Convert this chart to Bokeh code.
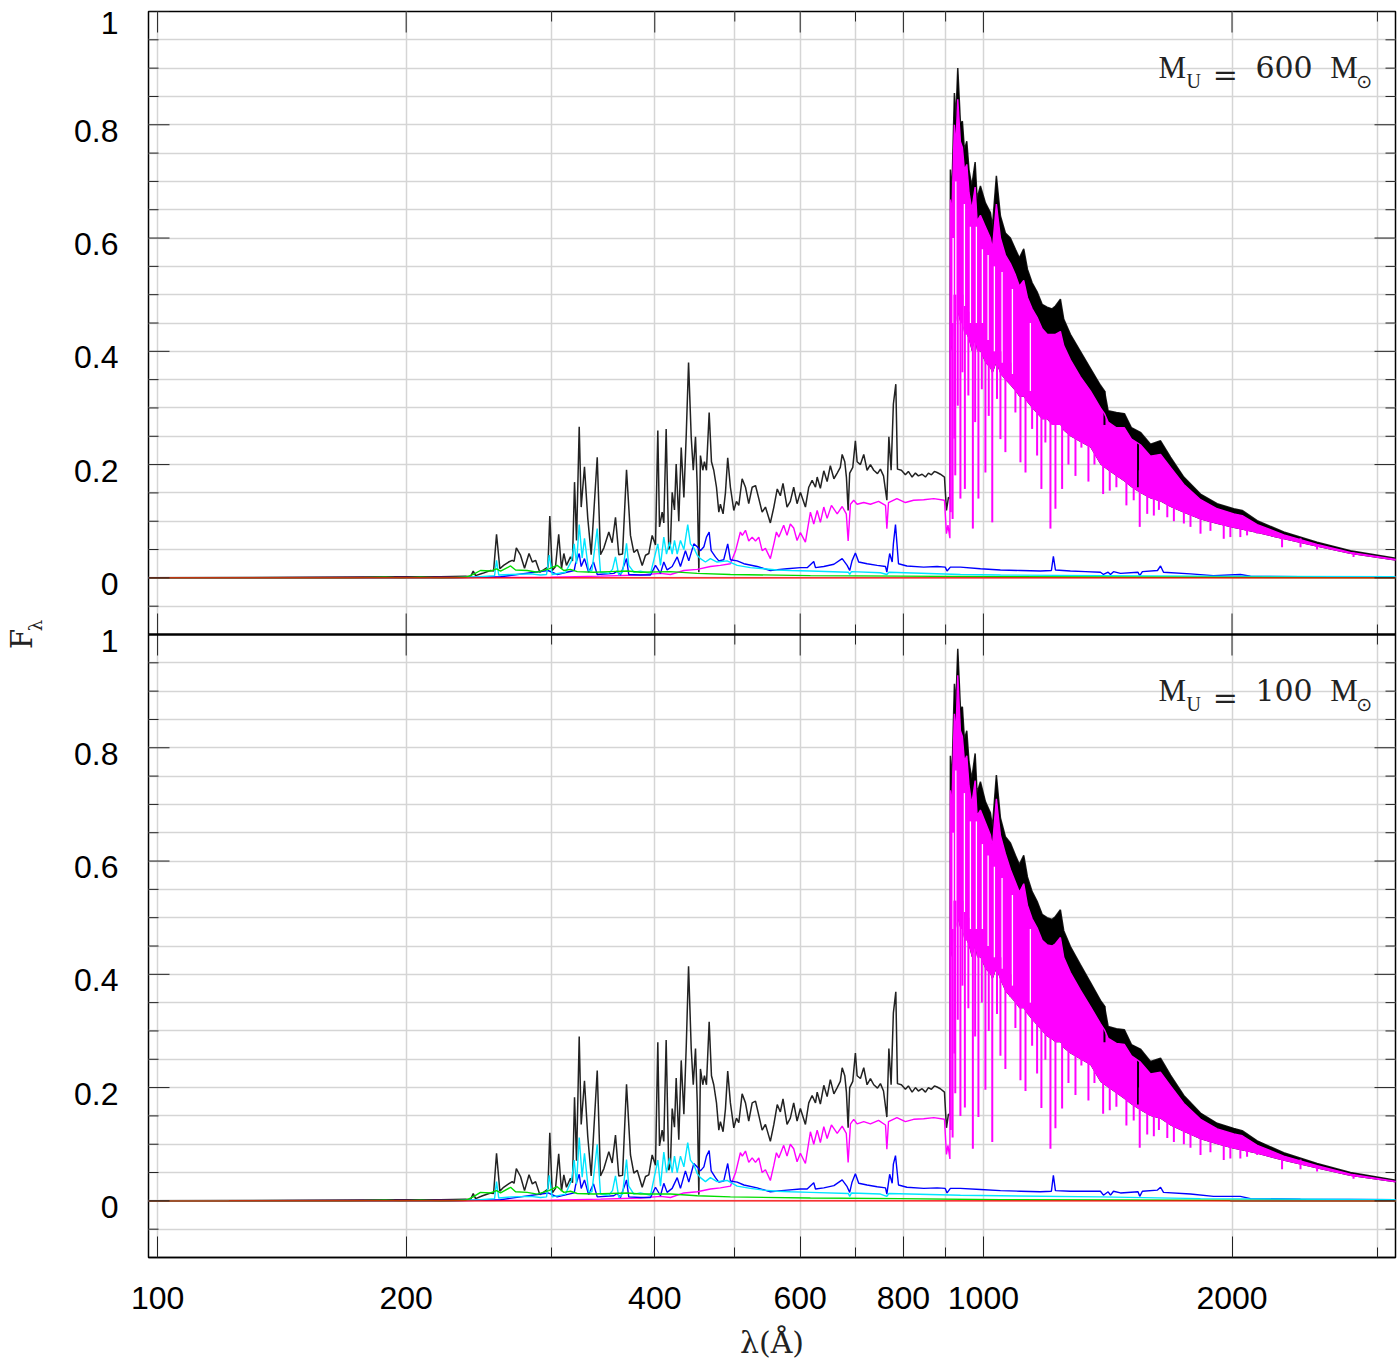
from math import pi
from bokeh.plotting import figure
from bokeh.layouts import row
from bokeh.models import Range1d, LinearAxis, FixedTicker, Span, Label, Grid, BasicTickFormatter
from bokeh.embed import file_html
from bokeh.resources import INLINE

# ---------------- data (wavelength in Angstrom, flux F_lambda) ----------------
# shortward of the Lyman edge: total (black) spectrum
lam_uv = [97.5, 149, 197, 220, 236, 239.3, 241.1, 242.7, 247.5, 253.0,
          255.2, 257.3, 259.7, 262.4, 266.1, 268.8, 270.2, 271.9, 275.1, 278.2,
          281.7, 284.3, 286.9, 290.3, 293.3, 296.9, 298.5, 300.5, 303.3, 306.0,
          308.4, 310.4, 312.7, 316.2, 318.0, 319.8, 321.6, 324.0, 325.8, 328.8,
          331.8, 335.0, 340.7, 343.8, 347.1, 351.9, 355.2, 358.5, 361.8, 365.6,
          369.7, 373.8, 377.3, 380.9, 386.2, 389.8, 393.4, 397.1, 400.8, 403.4,
          405.3, 408.3, 410.2, 412.9, 415.9, 417.9, 419.9, 422.6, 424.6, 427.7,
          430.6, 433.8, 436.7, 439.5, 442.8, 445.3, 448.1, 450.3, 452.3, 454.3,
          457.3, 459.4, 462.0, 465.5, 468.5, 471.5, 475.1, 478.2, 480.3, 483.9,
          487.1, 490.2, 493.9, 498.6, 502.3, 505.6, 510.3, 515.1, 519.8, 524.8,
          529.7, 534.6, 539.6, 544.6, 552.1, 557.5, 562.8, 567.7, 571.9, 578.4,
          583.7, 589.2, 594.8, 600.3, 608.8, 614.5, 620.3, 626.1, 629.1, 634.7,
          640.8, 646.8, 652.6, 659.1, 665.2, 671.0, 674.5, 679.4, 682.5, 685.8,
          688.8, 694.7, 699.8, 703.2, 709.7, 716.3, 723.0, 729.8, 736.6, 744.3,
          750.4, 756.9, 764.0, 768.3, 773.1, 778.0, 783.3, 786.9, 795.6, 804.5,
          811.2, 819.7, 827.3, 834.2, 842.9, 850.8, 857.9, 865.0, 872.4, 878.9,
          886.9, 897.1, 902.1, 907.1, 910.8]
black_uv_600 = [0.0, 0.001, 0.002, 0.002, 0.003, 0.002, 0.012, 0.004, 0.008, 0.013,
                0.012, 0.077, 0.016, 0.022, 0.028, 0.031, 0.029, 0.053, 0.040, 0.017,
                0.043, 0.028, 0.031, 0.010, 0.014, 0.019, 0.109, 0.013, 0.020, 0.077,
                0.016, 0.043, 0.022, 0.037, 0.030, 0.169, 0.066, 0.267, 0.125, 0.196,
                0.106, 0.041, 0.213, 0.041, 0.053, 0.081, 0.062, 0.107, 0.041, 0.042,
                0.191, 0.075, 0.045, 0.050, 0.022, 0.040, 0.043, 0.075, 0.058, 0.260,
                0.090, 0.116, 0.097, 0.263, 0.050, 0.060, 0.151, 0.120, 0.201, 0.100,
                0.230, 0.142, 0.254, 0.380, 0.248, 0.190, 0.249, 0.160, 0.010, 0.216,
                0.190, 0.205, 0.190, 0.292, 0.205, 0.190, 0.160, 0.116, 0.130, 0.113,
                0.150, 0.212, 0.160, 0.119, 0.135, 0.128, 0.175, 0.160, 0.131, 0.160,
                0.163, 0.140, 0.116, 0.125, 0.097, 0.125, 0.157, 0.145, 0.167, 0.125,
                0.135, 0.160, 0.131, 0.151, 0.125, 0.160, 0.172, 0.160, 0.178, 0.158,
                0.189, 0.170, 0.198, 0.175, 0.185, 0.195, 0.218, 0.205, 0.178, 0.119,
                0.185, 0.195, 0.242, 0.205, 0.200, 0.218, 0.190, 0.200, 0.190, 0.184,
                0.192, 0.180, 0.137, 0.249, 0.190, 0.307, 0.342, 0.192, 0.190, 0.182,
                0.188, 0.178, 0.185, 0.180, 0.183, 0.178, 0.185, 0.182, 0.188, 0.186,
                0.183, 0.178, 0.119, 0.142, 0.140]
black_uv_100 = [0.0, 0.001, 0.002, 0.002, 0.003, 0.002, 0.013, 0.004, 0.009, 0.014,
                0.013, 0.084, 0.017, 0.024, 0.030, 0.034, 0.031, 0.057, 0.043, 0.018,
                0.046, 0.030, 0.034, 0.011, 0.015, 0.021, 0.120, 0.014, 0.022, 0.083,
                0.017, 0.046, 0.024, 0.040, 0.032, 0.183, 0.071, 0.290, 0.135, 0.212,
                0.114, 0.044, 0.230, 0.044, 0.057, 0.087, 0.067, 0.116, 0.044, 0.045,
                0.206, 0.081, 0.049, 0.054, 0.024, 0.043, 0.046, 0.081, 0.063, 0.280,
                0.097, 0.125, 0.105, 0.284, 0.054, 0.065, 0.163, 0.130, 0.217, 0.108,
                0.248, 0.153, 0.274, 0.414, 0.268, 0.205, 0.269, 0.173, 0.011, 0.233,
                0.205, 0.221, 0.205, 0.316, 0.221, 0.205, 0.173, 0.125, 0.140, 0.122,
                0.162, 0.229, 0.173, 0.129, 0.146, 0.138, 0.189, 0.173, 0.141, 0.173,
                0.176, 0.151, 0.125, 0.135, 0.105, 0.135, 0.170, 0.157, 0.180, 0.135,
                0.146, 0.173, 0.141, 0.163, 0.135, 0.173, 0.186, 0.173, 0.192, 0.171,
                0.204, 0.184, 0.214, 0.189, 0.200, 0.211, 0.235, 0.221, 0.192, 0.129,
                0.200, 0.211, 0.261, 0.221, 0.216, 0.235, 0.205, 0.216, 0.205, 0.199,
                0.207, 0.194, 0.148, 0.269, 0.205, 0.332, 0.369, 0.207, 0.205, 0.197,
                0.203, 0.192, 0.200, 0.194, 0.198, 0.192, 0.200, 0.197, 0.203, 0.201,
                0.198, 0.192, 0.129, 0.153, 0.151]

# longward of the Lyman edge: envelopes of the line forest
lam_fr = [912.0, 915.6, 922.3, 926.0, 931.0, 937.9, 943.1, 948.4, 954.7, 960.7,
          968.1, 977.2, 982.5, 991.7, 1005.6, 1019.7, 1025.4, 1036.8, 1048.6, 1063.2,
          1078.2, 1093.3, 1105.6, 1119.0, 1130.6, 1145.5, 1161.5, 1177.9, 1194.4, 1211.2,
          1222.4, 1239.5, 1251.0, 1274.5, 1310.5, 1347.6, 1385.9, 1401.5, 1415.9, 1448.9,
          1481.7, 1511.0, 1549.3, 1593.6, 1638.7, 1684.9, 1748.5, 1831.8, 1918.9, 2009.9,
          2057.6, 2145.5, 2310.2, 2535.4, 2782.7, 3171.0]
black_fr_600 = [0.721, 0.674, 0.856, 0.809, 0.900, 0.803, 0.806, 0.756, 0.771, 0.720,
                0.692, 0.734, 0.670, 0.692, 0.662, 0.645, 0.620, 0.710, 0.639, 0.609,
                0.600, 0.580, 0.565, 0.581, 0.545, 0.521, 0.505, 0.483, 0.478, 0.475,
                0.480, 0.492, 0.457, 0.430, 0.400, 0.370, 0.340, 0.330, 0.295, 0.292,
                0.290, 0.265, 0.257, 0.236, 0.242, 0.213, 0.178, 0.148, 0.131, 0.122,
                0.119, 0.101, 0.081, 0.063, 0.048, 0.034]
mag_fr_600 = [0.668, 0.640, 0.800, 0.760, 0.845, 0.770, 0.760, 0.720, 0.730, 0.680,
              0.650, 0.690, 0.630, 0.640, 0.620, 0.600, 0.580, 0.660, 0.600, 0.570,
              0.555, 0.535, 0.515, 0.525, 0.495, 0.475, 0.460, 0.440, 0.430, 0.430,
              0.430, 0.435, 0.410, 0.385, 0.355, 0.330, 0.300, 0.290, 0.275, 0.265,
              0.265, 0.245, 0.235, 0.215, 0.218, 0.195, 0.165, 0.138, 0.122, 0.113,
              0.110, 0.094, 0.076, 0.059, 0.045, 0.032]
core_fr_600 = [0.42, 0.40, 0.45, 0.45, 0.47, 0.45, 0.45, 0.43, 0.43, 0.42,
               0.40, 0.42, 0.40, 0.40, 0.38, 0.37, 0.36, 0.38, 0.36, 0.35,
               0.34, 0.33, 0.32, 0.32, 0.31, 0.30, 0.29, 0.28, 0.28, 0.27,
               0.27, 0.27, 0.26, 0.25, 0.24, 0.23, 0.20, 0.195, 0.19, 0.18,
               0.17, 0.16, 0.15, 0.14, 0.135, 0.125, 0.115, 0.103, 0.095, 0.088,
               0.085, 0.079, 0.068, 0.055, 0.042, 0.030]
black_fr_100 = [0.786, 0.735, 0.913, 0.875, 0.975, 0.870, 0.872, 0.815, 0.830, 0.775,
                0.745, 0.790, 0.720, 0.740, 0.705, 0.685, 0.660, 0.752, 0.676, 0.643,
                0.632, 0.610, 0.594, 0.610, 0.572, 0.546, 0.529, 0.506, 0.500, 0.497,
                0.502, 0.514, 0.477, 0.449, 0.417, 0.386, 0.354, 0.344, 0.308, 0.304,
                0.302, 0.276, 0.268, 0.246, 0.252, 0.222, 0.186, 0.155, 0.137, 0.128,
                0.124, 0.106, 0.085, 0.066, 0.050, 0.036]
mag_fr_100 = [0.725, 0.695, 0.860, 0.820, 0.928, 0.830, 0.820, 0.776, 0.786, 0.733,
              0.700, 0.742, 0.680, 0.690, 0.668, 0.646, 0.625, 0.710, 0.645, 0.613,
              0.585, 0.563, 0.545, 0.560, 0.522, 0.498, 0.482, 0.460, 0.452, 0.450,
              0.454, 0.465, 0.430, 0.403, 0.372, 0.343, 0.313, 0.302, 0.287, 0.278,
              0.276, 0.256, 0.245, 0.224, 0.227, 0.203, 0.172, 0.144, 0.127, 0.118,
              0.115, 0.098, 0.079, 0.062, 0.047, 0.034]
core_fr_100 = [0.45, 0.43, 0.48, 0.48, 0.50, 0.48, 0.48, 0.46, 0.46, 0.45,
               0.43, 0.45, 0.43, 0.43, 0.41, 0.40, 0.39, 0.41, 0.39, 0.37,
               0.36, 0.35, 0.34, 0.34, 0.33, 0.32, 0.31, 0.30, 0.29, 0.285,
               0.28, 0.28, 0.27, 0.26, 0.25, 0.24, 0.21, 0.205, 0.20, 0.19,
               0.18, 0.17, 0.16, 0.15, 0.145, 0.133, 0.122, 0.109, 0.10, 0.092,
               0.089, 0.083, 0.071, 0.057, 0.044, 0.032]

# absorption lines in the forest (magenta)
dip_lam = [913.0, 917.7, 922.3, 924.5, 931.0, 937.9, 943.1, 949.6, 958.9, 971.0,
           977.2, 986.2, 995.6, 1005.6, 1015.0, 1025.0, 1038.6, 1048.6, 1063.2, 1078.2,
           1093.3, 1108.8, 1124.5, 1145.5, 1161.5, 1175.5, 1188.6, 1205.5, 1222.4, 1245.4,
           1267.6, 1292.6, 1314.2, 1340.2, 1362.9, 1396.3, 1422.3, 1448.9, 1489.9, 1520.5,
           1546.3, 1578.9, 1608.3, 1631.2, 1669.8, 1700.7, 1748.7, 1781.3, 1831.8, 1883.3,
           1954.4, 1990.8, 2047.0, 2085.8, 2145.5, 2299.5, 2420.9, 2535.4, 2806.7]
dip_low_600 = [0.116, 0.104, 0.246, 0.181, 0.304, 0.140, 0.363, 0.157, 0.322, 0.087,
               0.275, 0.140, 0.333, 0.186, 0.286, 0.098, 0.316, 0.245, 0.222, 0.345,
               0.292, 0.204, 0.186, 0.263, 0.216, 0.157, 0.239, 0.087, 0.122, 0.157,
               0.20, 0.18, 0.23, 0.17, 0.20, 0.148, 0.154, 0.16, 0.128, 0.137,
               0.090, 0.113, 0.11, 0.12, 0.107, 0.10, 0.096, 0.09, 0.078, 0.083,
               0.069, 0.072, 0.072, 0.075, 0.078, 0.054, 0.054, 0.05, 0.037]
dip_high_600 = [0.45, 0.45, 0.50, 0.50, 0.50, 0.50, 0.50, 0.48, 0.47, 0.45,
                0.45, 0.44, 0.43, 0.42, 0.41, 0.40, 0.41, 0.40, 0.39, 0.38,
                0.37, 0.36, 0.35, 0.34, 0.33, 0.32, 0.31, 0.31, 0.30, 0.30,
                0.29, 0.28, 0.27, 0.26, 0.25, 0.24, 0.23, 0.22, 0.21, 0.20,
                0.19, 0.18, 0.17, 0.165, 0.155, 0.145, 0.135, 0.125, 0.12, 0.11,
                0.10, 0.10, 0.095, 0.09, 0.09, 0.075, 0.07, 0.06, 0.045]
dip_low_100 = [0.125, 0.112, 0.26, 0.19, 0.32, 0.15, 0.38, 0.165, 0.34, 0.092,
               0.29, 0.148, 0.35, 0.196, 0.30, 0.104, 0.33, 0.256, 0.233, 0.36,
               0.305, 0.213, 0.194, 0.274, 0.225, 0.164, 0.249, 0.092, 0.128, 0.163,
               0.208, 0.187, 0.239, 0.177, 0.208, 0.154, 0.16, 0.166, 0.133, 0.142,
               0.094, 0.117, 0.114, 0.125, 0.111, 0.104, 0.1, 0.094, 0.081, 0.086,
               0.072, 0.075, 0.075, 0.078, 0.081, 0.056, 0.056, 0.052, 0.039]
dip_high_100 = [0.48, 0.48, 0.53, 0.53, 0.53, 0.53, 0.53, 0.51, 0.50, 0.48,
                0.48, 0.47, 0.46, 0.45, 0.44, 0.43, 0.44, 0.43, 0.42, 0.40,
                0.39, 0.38, 0.37, 0.36, 0.35, 0.34, 0.33, 0.33, 0.32, 0.32,
                0.31, 0.30, 0.29, 0.28, 0.27, 0.26, 0.245, 0.235, 0.22, 0.21,
                0.20, 0.19, 0.18, 0.175, 0.165, 0.155, 0.145, 0.13, 0.125, 0.115,
                0.105, 0.105, 0.10, 0.095, 0.095, 0.078, 0.073, 0.062, 0.047]
# narrow gaps (lines deep in both components) inside the forest
gap_lam = [919.0, 926.0, 948.4, 964.4, 980.6, 997.2, 1013.2, 1031.1, 1053.4, 1084.2, 1139.9]
gap_low_600 = [0.30, 0.45, 0.42, 0.45, 0.45, 0.45, 0.42, 0.40, 0.38, 0.36, 0.33]
gap_high_600 = [0.60, 0.70, 0.66, 0.62, 0.62, 0.58, 0.57, 0.55, 0.54, 0.51, 0.45]
gap_low_100 = [0.33, 0.48, 0.45, 0.48, 0.48, 0.48, 0.45, 0.43, 0.41, 0.38, 0.35]
gap_high_100 = [0.65, 0.76, 0.72, 0.67, 0.67, 0.63, 0.61, 0.59, 0.57, 0.54, 0.48]
# absorption lines visible in the total (black) spectrum
bdip_lam = [1401.5, 1539.0]
bdip_low_600 = [0.27, 0.16]
bdip_high_600 = [0.33, 0.257]
bdip_low_100 = [0.28, 0.17]
bdip_high_100 = [0.344, 0.27]

# magenta component shortward of the edge
mag_lam = [97.5, 299.0, 343.8, 384.3, 406.4, 417.9, 433.8, 450.3, 467.1, 480.3,
           493.9, 501.1, 507.8, 510.6, 515.1, 519.8, 524.8, 529.7, 534.6, 539.6,
           544.6, 552.1, 557.5, 561.5, 565.4, 573.0, 578.4, 583.7, 589.2, 594.8,
           600.3, 608.8, 617.3, 623.1, 629.1, 634.7, 640.8, 646.8, 654.6, 665.2,
           674.5, 682.3, 685.8, 690.2, 696.6, 703.2, 716.3, 729.8, 746.5, 761.1,
           764.0, 767.5, 785.6, 804.5, 823.1, 846.6, 870.8, 897.1, 902.1, 905.9, 910.8]
mag_uv_600 = [0.0, 0.001, 0.003, 0.005, 0.008, 0.006, 0.013, 0.015, 0.020, 0.022,
              0.025, 0.048, 0.081, 0.075, 0.084, 0.065, 0.072, 0.065, 0.072, 0.048,
              0.052, 0.034, 0.060, 0.081, 0.072, 0.093, 0.075, 0.095, 0.088, 0.066,
              0.080, 0.063, 0.116, 0.095, 0.119, 0.098, 0.125, 0.105, 0.128, 0.113,
              0.126, 0.113, 0.065, 0.130, 0.137, 0.130, 0.133, 0.130, 0.135, 0.128,
              0.087, 0.133, 0.140, 0.133, 0.137, 0.138, 0.140, 0.137, 0.078, 0.093, 0.070]
mag_uv_100 = [0.0, 0.001, 0.003, 0.005, 0.008, 0.006, 0.014, 0.016, 0.021, 0.023,
              0.026, 0.050, 0.085, 0.079, 0.088, 0.068, 0.076, 0.068, 0.076, 0.050,
              0.055, 0.036, 0.063, 0.085, 0.076, 0.098, 0.079, 0.100, 0.092, 0.069,
              0.084, 0.066, 0.122, 0.100, 0.125, 0.103, 0.131, 0.110, 0.134, 0.119,
              0.132, 0.119, 0.068, 0.136, 0.144, 0.136, 0.140, 0.136, 0.142, 0.134,
              0.091, 0.140, 0.147, 0.140, 0.144, 0.145, 0.147, 0.144, 0.082, 0.098, 0.074]

# blue component
blue_lam = [97.5, 226.3, 260.2, 297.0, 304.7, 319.5, 320.7, 324.0, 325.8, 328.8,
            332.6, 337.2, 340.7, 356.8, 360.2, 363.5, 369.7, 372.0, 384.3, 395.3,
            400.8, 406.4, 410.2, 414.0, 419.9, 425.8, 429.7, 435.7, 439.8, 446.0,
            450.3, 454.3, 458.7, 462.0, 465.5, 468.1, 473.7, 478.2, 484.8, 490.2,
            493.9, 503.3, 512.8, 532.1, 552.1, 578.4, 600.3, 611.8, 623.1, 626.1,
            640.8, 659.1, 674.5, 683.9, 688.8, 693.3, 699.8, 706.3, 723.0, 743.6,
            761.1, 764.0, 770.0, 775.4, 778.0, 782.6, 789.2, 807.9, 846.6, 878.9,
            899.0, 903.6, 912.0, 937.9, 991.7, 1048.6, 1108.8, 1172.2, 1208.7, 1215.4,
            1222.4, 1274.5, 1329.2, 1385.9, 1397.6, 1415.9, 1425.3, 1437.2, 1465.5, 1539.0,
            1546.3, 1557.8, 1624.7, 1638.7, 1652.3, 1781.3, 1899.5, 2047.0, 2105.9, 2420.9,
            3171.0]
blue_600 = [0.0, 0.0, 0.002, 0.013, 0.006, 0.013, 0.025, 0.043, 0.020, 0.034,
            0.010, 0.028, 0.006, 0.008, 0.012, 0.005, 0.034, 0.006, 0.005, 0.005,
            0.022, 0.008, 0.028, 0.014, 0.020, 0.037, 0.020, 0.048, 0.030, 0.060,
            0.055, 0.048, 0.055, 0.072, 0.081, 0.048, 0.037, 0.030, 0.032, 0.060,
            0.032, 0.030, 0.025, 0.020, 0.013, 0.016, 0.018, 0.018, 0.029, 0.018,
            0.020, 0.024, 0.034, 0.022, 0.013, 0.030, 0.044, 0.028, 0.025, 0.022,
            0.020, 0.010, 0.043, 0.028, 0.060, 0.094, 0.025, 0.021, 0.019, 0.020,
            0.019, 0.012, 0.019, 0.019, 0.016, 0.014, 0.013, 0.012, 0.013, 0.038,
            0.014, 0.012, 0.011, 0.010, 0.006, 0.010, 0.006, 0.011, 0.008, 0.010,
            0.004, 0.011, 0.013, 0.021, 0.010, 0.007, 0.004, 0.006, 0.003, 0.002,
            0.001]
blue_100 = [0.0, 0.0, 0.002, 0.014, 0.007, 0.014, 0.027, 0.047, 0.022, 0.037,
            0.011, 0.030, 0.007, 0.009, 0.013, 0.006, 0.037, 0.007, 0.006, 0.006,
            0.024, 0.009, 0.031, 0.015, 0.022, 0.041, 0.022, 0.053, 0.033, 0.066,
            0.060, 0.053, 0.060, 0.079, 0.089, 0.053, 0.041, 0.033, 0.035, 0.066,
            0.035, 0.033, 0.028, 0.023, 0.016, 0.019, 0.021, 0.021, 0.032, 0.021,
            0.023, 0.027, 0.037, 0.025, 0.015, 0.033, 0.048, 0.031, 0.028, 0.025,
            0.023, 0.012, 0.047, 0.031, 0.065, 0.080, 0.028, 0.024, 0.022, 0.023,
            0.022, 0.014, 0.022, 0.022, 0.020, 0.018, 0.017, 0.016, 0.017, 0.045,
            0.018, 0.017, 0.017, 0.017, 0.010, 0.016, 0.010, 0.017, 0.014, 0.016,
            0.008, 0.017, 0.019, 0.024, 0.015, 0.012, 0.008, 0.008, 0.004, 0.003,
            0.002]

# cyan component
cyan_lam = [97.5, 226.3, 246.0, 255.9, 257.3, 258.9, 267.6, 282.9, 290.9, 295.8,
            298.0, 300.5, 311.9, 317.1, 319.5, 321.6, 324.0, 326.7, 328.8, 332.6,
            335.7, 340.7, 343.8, 351.9, 355.5, 358.5, 361.8, 365.6, 369.7, 372.0,
            377.3, 384.3, 395.3, 403.4, 406.4, 410.2, 413.3, 416.8, 419.9, 422.6,
            425.8, 429.7, 433.8, 438.5, 441.8, 446.0, 450.3, 454.3, 460.7, 467.1,
            475.9, 489.4, 503.3, 522.2, 542.0, 562.8, 583.7, 617.3, 686.3, 688.8,
            692.2, 750.4, 764.0, 768.3, 937.9, 1048.6, 1385.9, 1831.8, 3171.0]
cyan_600 = [0.0, 0.0, 0.002, 0.004, 0.031, 0.005, 0.006, 0.007, 0.005, 0.006,
            0.040, 0.006, 0.010, 0.030, 0.060, 0.025, 0.094, 0.035, 0.070, 0.013,
            0.013, 0.087, 0.010, 0.008, 0.015, 0.037, 0.005, 0.010, 0.061, 0.022,
            0.010, 0.012, 0.008, 0.060, 0.022, 0.072, 0.042, 0.063, 0.042, 0.066,
            0.042, 0.066, 0.050, 0.094, 0.060, 0.053, 0.040, 0.034, 0.028, 0.034,
            0.028, 0.030, 0.022, 0.018, 0.016, 0.014, 0.013, 0.012, 0.010, 0.006,
            0.011, 0.009, 0.006, 0.010, 0.006, 0.005, 0.004, 0.003, 0.002]
cyan_100 = [0.0, 0.0, 0.002, 0.004, 0.034, 0.005, 0.007, 0.008, 0.006, 0.007,
            0.045, 0.007, 0.012, 0.036, 0.072, 0.030, 0.112, 0.042, 0.084, 0.016,
            0.016, 0.100, 0.012, 0.010, 0.018, 0.044, 0.006, 0.012, 0.073, 0.026,
            0.012, 0.014, 0.010, 0.072, 0.026, 0.086, 0.050, 0.076, 0.050, 0.079,
            0.050, 0.079, 0.060, 0.103, 0.072, 0.064, 0.048, 0.041, 0.034, 0.041,
            0.034, 0.036, 0.026, 0.022, 0.019, 0.017, 0.016, 0.015, 0.013, 0.008,
            0.014, 0.012, 0.008, 0.013, 0.010, 0.009, 0.007, 0.004, 0.002]

# green component
green_lam = [97.5, 171.3, 188.8, 197.0, 208.2, 220.0, 236.0, 241.1, 246.0, 253.0,
             257.3, 260.2, 267.6, 271.3, 280.3, 288.2, 297.7, 304.7, 310.4, 316.2,
             322.2, 337.2, 353.5, 370.7, 384.3, 417.9, 450.3, 493.9, 617.3, 793.4,
             1048.6, 1831.8, 3171.0]
green_600 = [0.0, 0.0, 0.001, 0.0, 0.001, 0.0, 0.001, 0.006, 0.013, 0.012,
             0.016, 0.012, 0.021, 0.014, 0.013, 0.010, 0.016, 0.022, 0.013, 0.015,
             0.011, 0.010, 0.011, 0.012, 0.010, 0.011, 0.008, 0.006, 0.004, 0.003,
             0.002, 0.001, 0.0]
green_100 = [0.0, 0.0, 0.001, 0.0, 0.001, 0.0, 0.001, 0.007, 0.015, 0.014,
             0.018, 0.014, 0.024, 0.016, 0.015, 0.012, 0.018, 0.025, 0.015, 0.017,
             0.013, 0.012, 0.013, 0.014, 0.012, 0.012, 0.009, 0.007, 0.005, 0.004,
             0.002, 0.001, 0.0]

# red and brown components (zero at this scale)
red_lam = [97.5, 3171.0]
red_F = [0.0, 0.0]
brown_lam_a = [97.5, 122.0]
brown_lam_b = [1990.0, 3171.0]
brown_F = [0.0, 0.0]

# axis ticks and tick labels
x_major = [100, 200, 400, 600, 800, 1000, 2000]
x_minor = [300, 500, 700, 900, 3000]
y_tick_vals = [0, 0.2, 0.4, 0.6, 0.8, 1.0]
y_tick_text = ["0", "0.2", "0.4", "0.6", "0.8", "1"]

for a, b in [(lam_uv, black_uv_600), (lam_uv, black_uv_100), (lam_fr, black_fr_600),
             (lam_fr, mag_fr_600), (lam_fr, core_fr_600), (lam_fr, black_fr_100),
             (lam_fr, mag_fr_100), (lam_fr, core_fr_100), (dip_lam, dip_low_600),
             (dip_lam, dip_high_600), (dip_lam, dip_low_100), (dip_lam, dip_high_100),
             (gap_lam, gap_low_600), (gap_lam, gap_high_600), (gap_lam, gap_low_100),
             (gap_lam, gap_high_100),
             (mag_lam, mag_uv_600), (mag_lam, mag_uv_100), (blue_lam, blue_600),
             (blue_lam, blue_100), (cyan_lam, cyan_600), (cyan_lam, cyan_100),
             (green_lam, green_600), (green_lam, green_100)]:
    assert len(a) == len(b), (len(a), len(b))

# ---------------- geometry ----------------
W, H = 1397, 1363
LEFT_W = 125          # strip holding the y tick labels and the y title
TOP_B = 11
BOT_B = 106
FRAME_H = H - TOP_B - BOT_B
YMIN, YMAX = -0.1, 2.1
XMIN, XMAX = 97.5, 3155.0
PX = (YMAX - YMIN) / FRAME_H      # data units per pixel, vertically

# ---------------- main figure ----------------
p = figure(width=W - LEFT_W, height=H, x_axis_type="log",
           x_range=Range1d(XMIN, XMAX), y_range=Range1d(YMIN, YMAX),
           output_backend="svg", toolbar_location=None,
           x_axis_location=None, y_axis_location=None,
           min_border_left=148 - LEFT_W, min_border_right=2, min_border_top=TOP_B,
           min_border_bottom=BOT_B)
p.extra_y_ranges = {"top": Range1d(YMIN - 1.1, YMAX - 1.1)}
p.grid.visible = False
p.outline_line_color = "black"
p.outline_line_width = 1.5
p.background_fill_color = "white"
p.border_fill_color = "white"

GRID = "#d5d5d5"
x_grid = [100, 200, 300, 400, 500, 600, 700, 800, 900, 1000, 2000, 3000]
y_all = [round(-0.1 + 0.05 * i, 2) for i in range(1, 44)]
y_grid = [v for v in y_all if abs(v - 1.0) > 1e-6]
p.add_layout(Grid(dimension=0, ticker=FixedTicker(ticks=x_grid), grid_line_color=GRID, grid_line_width=1.5))
p.add_layout(Grid(dimension=1, ticker=FixedTicker(ticks=y_grid), grid_line_color=GRID, grid_line_width=1.5))

y_major = [round(v + off, 2) for off in (0.0, 1.1) for v in y_tick_vals]
y_minor = [v for v in y_all if all(abs(v - m) > 1e-6 for m in y_major)]

TICKFONT = "Liberation Sans"
TICKCOL = "#222222"

bottom = LinearAxis(ticker=FixedTicker(ticks=x_major, minor_ticks=x_minor),
                    formatter=BasicTickFormatter(use_scientific=False))
bottom.major_tick_in = 21
bottom.major_tick_out = 0
bottom.minor_tick_in = 10
bottom.minor_tick_out = 0
bottom.major_tick_line_color = TICKCOL
bottom.minor_tick_line_color = TICKCOL
bottom.axis_line_color = "black"
bottom.axis_line_width = 1.5
bottom.major_label_standoff = 29
bottom.major_label_text_font = TICKFONT
bottom.major_label_text_font_size = "32px"
bottom.major_label_text_color = "black"
bottom.axis_label = "\u03bb(\u00c5)"
bottom.axis_label_text_font = "DejaVu Serif"
bottom.axis_label_text_font_style = "normal"
bottom.axis_label_text_font_size = "30px"
bottom.axis_label_text_color = "#222222"
bottom.axis_label_standoff = 13
p.add_layout(bottom, "below")

# ---------------- spectra ----------------
def draw_panel(rng, blk_uv, blk_fr, mg_uv, mg_fr, core, dlow, dhigh, glow, ghigh, bl, bh,
               blu, cy, gr, brown):
    kw = {} if rng is None else {"y_range_name": rng}
    p.line(lam_uv + lam_fr, blk_uv + blk_fr, line_color="#222222", line_width=1.5, **kw)
    p.varea(x=lam_fr, y1=core, y2=blk_fr, fill_color="black", **kw)
    p.varea(x=lam_fr, y1=core, y2=mg_fr, fill_color="#ff00ff", **kw)
    p.segment(x0=gap_lam, x1=gap_lam, y0=glow, y1=ghigh, line_color="white", line_width=1.3, **kw)
    p.segment(x0=bdip_lam, x1=bdip_lam, y0=bl, y1=bh, line_color="black", line_width=2, **kw)
    p.segment(x0=dip_lam, x1=dip_lam, y0=dlow, y1=dhigh, line_color="#ff00ff", line_width=2, **kw)
    p.line(mag_lam + lam_fr, mg_uv + mg_fr, line_color="#ff00ff", line_width=1.4, **kw)
    p.line(blue_lam, blu, line_color="#0000ff", line_width=1.4, **kw)
    p.line(cyan_lam, cy, line_color="#00e5ff", line_width=1.4, **kw)
    p.line(green_lam, gr, line_color="#00dd00", line_width=1.4, **kw)
    p.line(red_lam, red_F, line_color="#ff0000", line_width=1.4, **kw)
    if brown:
        p.line(brown_lam_a, brown_F, line_color="#a0522d", line_width=1.6, **kw)
        p.line(brown_lam_b, brown_F, line_color="#a0522d", line_width=1.6, **kw)

draw_panel("top", black_uv_600, black_fr_600, mag_uv_600, mag_fr_600, core_fr_600,
           dip_low_600, dip_high_600, gap_low_600, gap_high_600, bdip_low_600, bdip_high_600,
           blue_600, cyan_600, green_600, False)
draw_panel(None, black_uv_100, black_fr_100, mag_uv_100, mag_fr_100, core_fr_100,
           dip_low_100, dip_high_100, gap_low_100, gap_high_100, bdip_low_100, bdip_high_100,
           blue_100, cyan_100, green_100, True)

# separator between the panels, with inward ticks on both sides
p.add_layout(Span(location=1.0, dimension="width", line_color="black", line_width=2.5))
for xs, ys, ang, sz in [(x_major, [1.0] * len(x_major), pi / 2, 42),
                        (x_minor, [1.0] * len(x_minor), pi / 2, 20),
                        (x_major, [YMAX] * len(x_major), pi / 2, 42),
                        (x_minor, [YMAX] * len(x_minor), pi / 2, 20),
                        ([XMIN] * len(y_major), y_major, 0, 42),
                        ([XMIN] * len(y_minor), y_minor, 0, 20),
                        ([XMAX] * len(y_major), y_major, 0, 42),
                        ([XMAX] * len(y_minor), y_minor, 0, 20)]:
    # each dash is centred on a frame edge, so only its inward half is drawn
    p.scatter(x=xs, y=ys, marker="dash", angle=ang, size=sz, line_color=TICKCOL, line_width=1)

# ---------------- panel annotations ----------------
def mass_label(rng, value):
    kw = {} if rng is None else {"y_range_name": rng}
    base = dict(text_baseline="middle", text_color="#222222", **kw)
    p.add_layout(Label(x=1629, y=0.902, text="M", text_font="Liberation Serif",
                       text_font_size="31px", text_align="left", **base))
    p.add_layout(Label(x=1762, y=0.877, text="U", text_font="Liberation Serif",
                       text_font_size="20px", text_align="left", **base))
    p.add_layout(Label(x=1963, y=0.889, text="=", text_font="DejaVu Serif",
                       text_font_size="30px", text_align="center", **base))
    p.add_layout(Label(x=2135, y=0.902, text=value, text_font="DejaVu Serif",
                       text_font_size="30px", text_align="left", **base))
    p.add_layout(Label(x=2631, y=0.902, text="M", text_font="Liberation Serif",
                       text_font_size="31px", text_align="left", **base))
    p.add_layout(Label(x=2828, y=0.877, text="\u2299", text_font="DejaVu Sans",
                       text_font_size="19px", text_align="left", **base))

mass_label("top", "600")
mass_label(None, "100")

# ---------------- left strip: y tick labels and y title ----------------
# its frame is aligned with the main frame, so it shares the same vertical scale
lab = figure(width=LEFT_W, height=H, x_range=Range1d(0, LEFT_W), y_range=Range1d(YMIN, YMAX),
             output_backend="svg", toolbar_location=None, x_axis_location=None, y_axis_location=None,
             min_border_left=0, min_border_right=0, min_border_top=TOP_B, min_border_bottom=BOT_B)
lab.grid.visible = False
lab.outline_line_color = None
lab.background_fill_color = "white"
lab.border_fill_color = "white"

for off in (0.0, 1.1):
    for v, t in zip(y_tick_vals, y_tick_text):
        # labels sit a few pixels below their tick, as in the original figure
        y = min(v + off - 6 * PX, YMAX - 11 * PX)
        lab.add_layout(Label(x=118, y=y, text=t, text_font=TICKFONT,
                             text_font_size="32px", text_align="right", text_baseline="middle",
                             text_color="black"))

lab.add_layout(Label(x=21.5, y=YMAX - (638.5 - TOP_B) * PX, text="F", angle=pi / 2,
                     text_font="DejaVu Serif", text_font_size="29px", text_align="center",
                     text_baseline="middle", text_color="#222222"))
lab.add_layout(Label(x=35, y=YMAX - (625 - TOP_B) * PX, text="\u03bb", angle=pi / 2,
                     text_font="DejaVu Serif", text_font_size="18px", text_align="center",
                     text_baseline="middle", text_color="#222222"))

layout = row(lab, p, spacing=0)
open("out.html", "w").write(file_html(layout, INLINE))
